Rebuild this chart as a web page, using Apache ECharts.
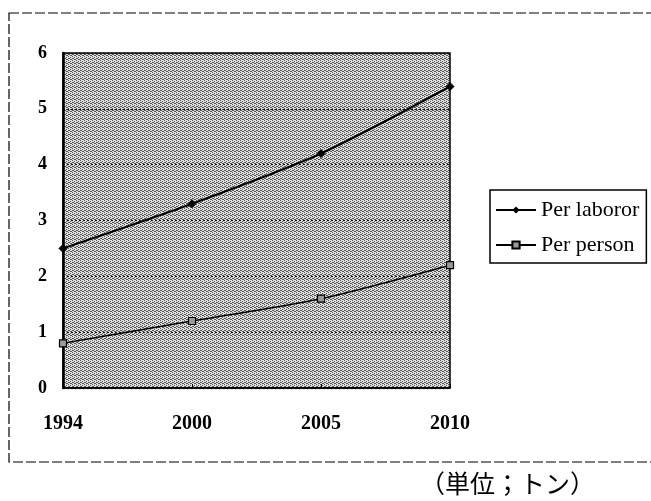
<!DOCTYPE html>
<html>
<head>
<meta charset="utf-8">
<script src="https://cdn.jsdelivr.net/npm/echarts@6/dist/echarts.min.js"></script>
<style>
  html, body { margin: 0; padding: 0; background: #fff; }
  #chart { width: 651px; height: 501px; }
</style>
</head>
<body>
<div id="chart"></div>
<script>
// Yearly figures (tonnes)
const years = ['1994', '2000', '2005', '2010'];
const perLaborer = [2.5, 3.3, 4.2, 5.4];
const perPerson = [0.8, 1.2, 1.6, 2.2];
const yTicks = [0, 1, 2, 3, 4, 5, 6];

// Halftone-like fill for the plot area
function makePattern() {
  const c = document.createElement('canvas');
  c.width = 4; c.height = 4;
  const ctx = c.getContext('2d');
  ctx.fillStyle = '#e0e0e0';
  ctx.fillRect(0, 0, 4, 4);
  ctx.fillStyle = '#555555';
  [[0,0],[2,1],[1,2],[3,3],[2,3],[0,2]].forEach(p => ctx.fillRect(p[0], p[1], 1, 1));
  return c;
}

const serif = '"Liberation Serif", "DejaVu Serif", serif';
const chart = echarts.init(document.getElementById('chart'));

chart.setOption({
  animation: false,
  backgroundColor: '#fff',
  grid: {
    left: 63, right: 201, top: 53, bottom: 113,
    show: true,
    backgroundColor: { image: makePattern(), repeat: 'repeat' },
    borderColor: '#000',
    borderWidth: 1.5
  },
  xAxis: {
    type: 'category',
    data: years,
    boundaryGap: false,
    axisLine: { lineStyle: { color: '#000', width: 1.5 } },
    axisTick: { show: true, length: 4, inside: true, lineStyle: { color: '#000' } },
    axisLabel: { color: '#000', fontFamily: serif, fontWeight: 'bold', fontSize: 20, margin: 26 },
    splitLine: { show: false }
  },
  yAxis: {
    type: 'value',
    min: yTicks[0],
    max: yTicks[yTicks.length - 1],
    interval: 1,
    axisLine: { show: true, lineStyle: { color: '#000', width: 2.5 } },
    axisTick: { show: false },
    axisLabel: { color: '#000', fontFamily: serif, fontWeight: 'bold', fontSize: 18, margin: 16 },
    splitLine: { show: true, lineStyle: { color: '#111', type: [2, 2], width: 1.2 } }
  },
  legend: {
    orient: 'vertical',
    left: 490,
    top: 190,
    itemGap: 13,
    itemWidth: 40,
    itemHeight: 9,
    padding: [9, 7, 7, 5],
    borderColor: '#000',
    borderWidth: 1.5,
    textStyle: { color: '#000', fontFamily: serif, fontSize: 22 },
    data: ['Per laboror', 'Per person']
  },
  series: [
    {
      name: 'Per laboror',
      type: 'line',
      data: perLaborer,
      smooth: 0.25,
      symbol: 'diamond',
      symbolSize: 8,
      lineStyle: { color: '#000', width: 2 },
      itemStyle: { color: '#000', borderColor: '#000' }
    },
    {
      name: 'Per person',
      type: 'line',
      data: perPerson,
      smooth: 0.25,
      symbol: 'rect',
      symbolSize: 7,
      lineStyle: { color: '#000', width: 1.5 },
      itemStyle: { color: '#9a9a9a', borderColor: '#000', borderWidth: 1.2 }
    }
  ],
  graphic: [
    {
      type: 'rect',
      shape: { x: 9, y: 13, width: 660, height: 449 },
      style: { fill: 'none', stroke: '#000', lineWidth: 1.2, lineDash: [10, 3] },
      silent: true
    },
    {
      type: 'text',
      left: 420,
      top: 471,
      style: {
        text: '（単位；トン）',
        fill: '#000',
        font: '25px "Noto Sans CJK JP", sans-serif'
      }
    }
  ]
});
</script>
</body>
</html>
